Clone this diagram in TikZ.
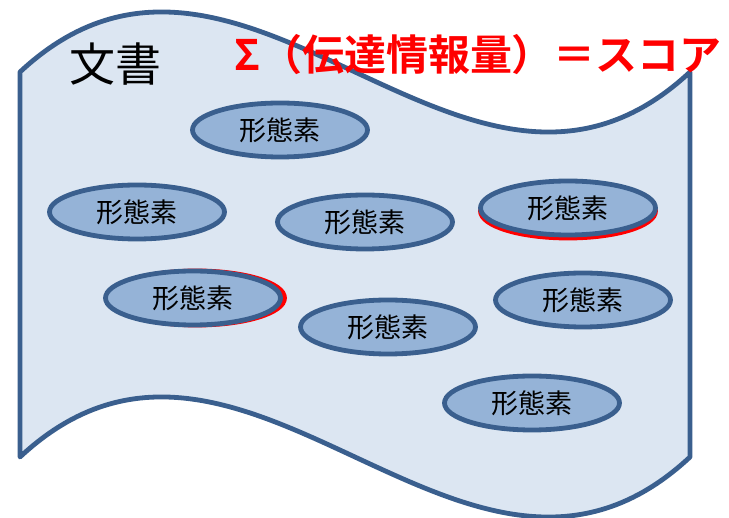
\documentclass[tikz,border=0pt]{standalone}
\usepackage{fontspec}
\usetikzlibrary{shapes.geometric}
\newfontfamily\cjk{Noto Sans CJK JP}
\newfontfamily\cjkbold{Noto Sans CJK JP Bold}
\definecolor{docfill}{HTML}{DCE6F2}
\definecolor{docline}{HTML}{3A5F8E}
\definecolor{morfill}{HTML}{95B3D7}
\tikzset{
  morph/.style={ellipse, draw=docline, fill=morfill, line width=4.8pt,
    minimum width=175pt, minimum height=54pt, inner sep=0pt,
    font=\cjk\fontsize{27}{30}\selectfont, text=black},
  redghost/.style={ellipse, draw=red, line width=4.8pt,
    minimum width=175pt, minimum height=54pt, inner sep=0pt},
}
\begin{document}
\begin{tikzpicture}[x=1pt,y=-1pt]
\useasboundingbox (0,0) rectangle (729,518);
\fill[white] (0,0) rectangle (729,518);
% wave document
\draw[docline, fill=docfill, line width=4.8pt, line join=round]
  (20,72) .. controls (243,-136) and (467,280) .. (690,72)
  -- (690,457) .. controls (467,665) and (243,249) .. (20,457) -- cycle;
\node[font=\cjk\fontsize{46}{50}\selectfont] (doc) at (115,64) {文書};
\node[font=\cjkbold\fontsize{42}{46}\selectfont, text=red] (score) at (478,55) {Σ（伝達情報量）＝スコア};
% red ghosts
\node[redghost] (g4) at (568,211) {};
\node[redghost] (g5) at (197,298) {};
% morphemes
\node[morph] (m1) at (280,130) {形態素};
\node[morph] (m2) at (137,212) {形態素};
\node[morph] (m3) at (365,222) {形態素};
\node[morph] (m4) at (568,208) {形態素};
\node[morph] (m5) at (193,298) {形態素};
\node[morph] (m6) at (388,327) {形態素};
\node[morph] (m7) at (583,300) {形態素};
\node[morph] (m8) at (532,403) {形態素};
\end{tikzpicture}
\end{document}
